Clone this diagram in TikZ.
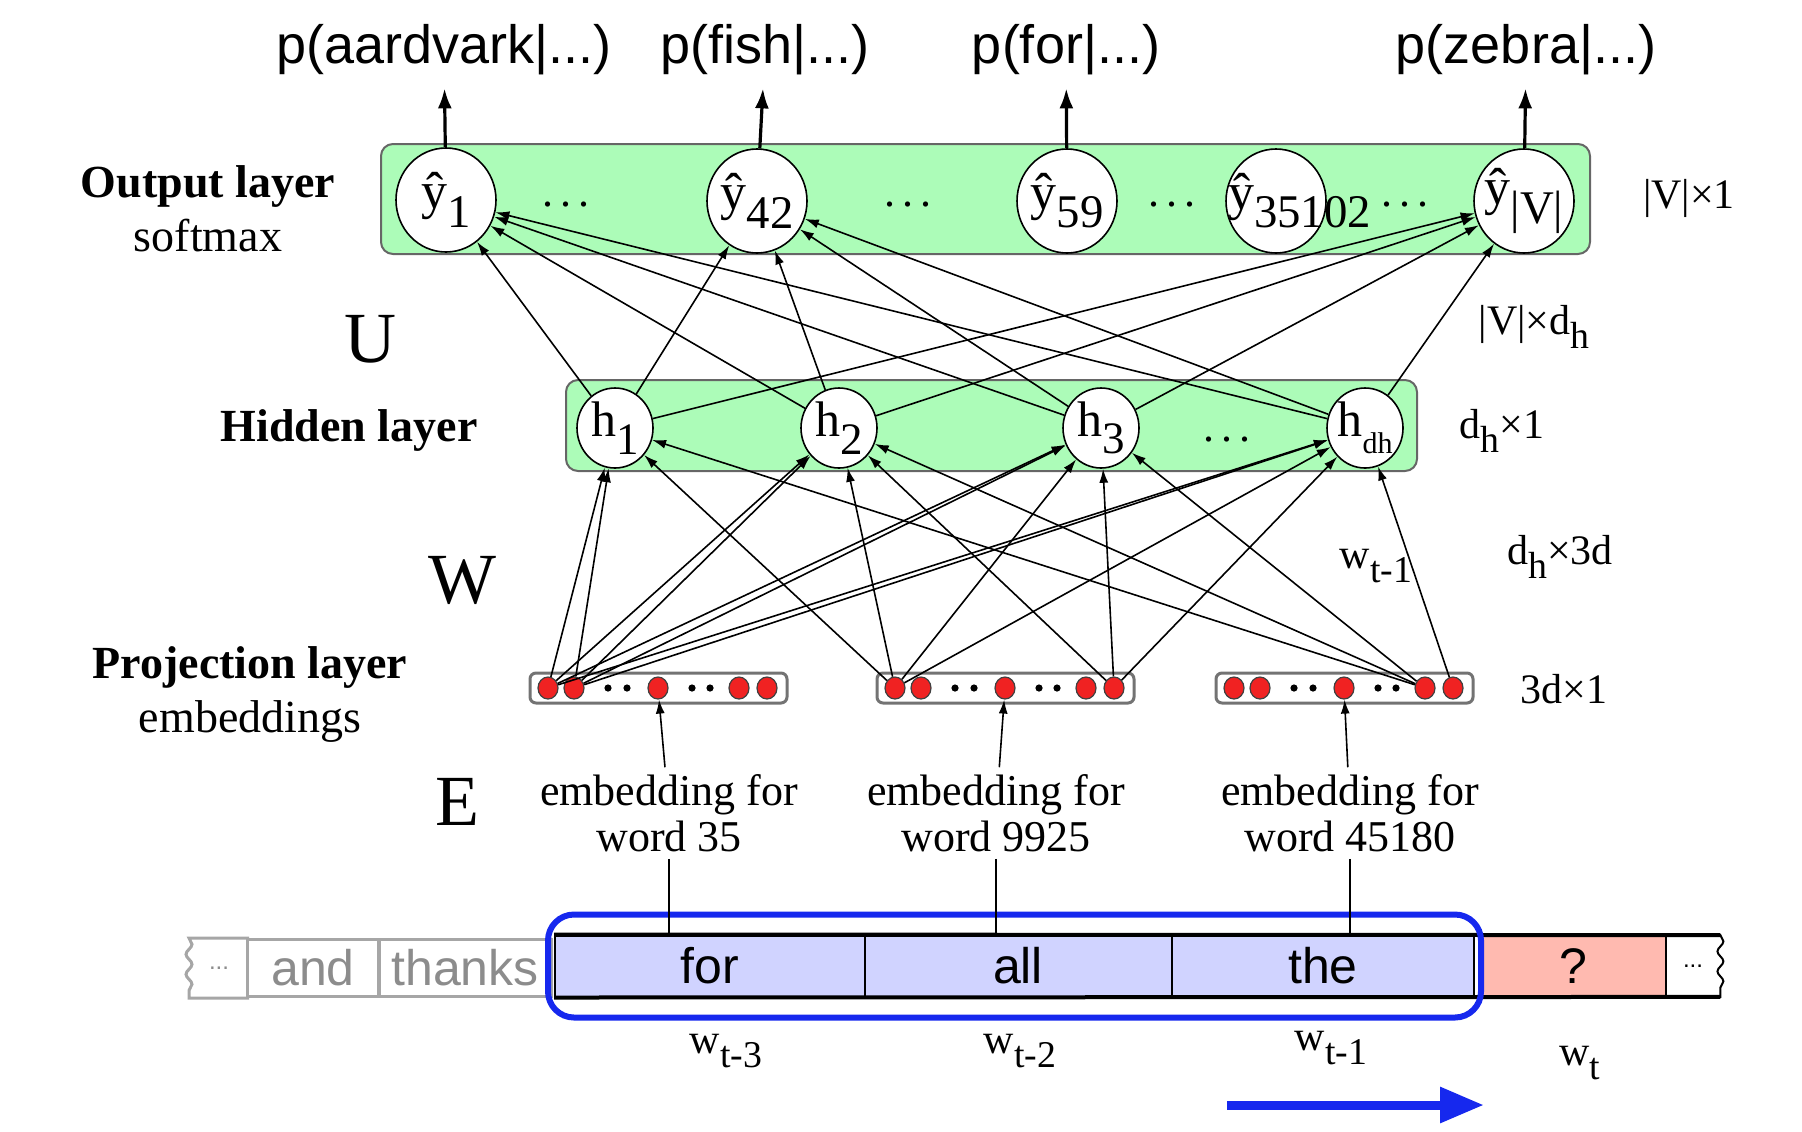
\documentclass[tikz,border=0pt]{standalone}
\usepackage{fontspec}
\setmainfont{Liberation Serif}
\newfontfamily\sansfont{Liberation Sans}
\usetikzlibrary{arrows.meta,shapes.geometric,decorations.pathmorphing,fit}

\definecolor{layergreen}{RGB}{172,252,184}
\definecolor{cellblue}{RGB}{208,211,255}
\definecolor{cellred}{RGB}{255,186,176}
\definecolor{winblue}{RGB}{22,40,238}
\definecolor{dotred}{RGB}{240,34,34}

\newcommand{\fsz}[1]{\fontsize{#1}{#1}\selectfont}
\newcommand{\lo}[1]{\raisebox{-.35em}{\scalebox{.9}{#1}}}
\newcommand{\yh}[1]{\makebox[0pt]{\fsz{26}ŷ\lo{#1}}}

\tikzset{
  layerbox/.style={draw=black!60, fill=layergreen, line width=1pt, rounded corners=6pt},
  ynode/.style={ellipse, draw, fill=white, line width=.8pt, minimum width=50pt, minimum height=52pt, inner sep=0pt},
  hnode/.style={ellipse, draw, fill=white, line width=.8pt, minimum width=38pt, minimum height=40pt, inner sep=0pt, font=\fsz{25}},
  projbox/.style={draw=black!55, fill=white, line width=1.5pt, rounded corners=3pt},
  reddot/.style={ellipse, draw=black!75, fill=dotred, line width=.6pt, minimum width=10pt, minimum height=11pt, inner sep=0pt},
  wire/.style={line width=.8pt, -{Latex[length=7pt,width=4.5pt]}},
  outarrow/.style={line width=1.6pt, -{Latex[length=10pt,width=7pt]}, shorten >=3pt},
  plabel/.style={font=\sansfont\fsz{27}},
  layername/.style={font=\fontsize{23}{27}\selectfont, align=center},
  matname/.style={font=\fsz{36}},
  dimlabel/.style={font=\fsz{21}},
  emblabel/.style={font=\fontsize{22}{23}\selectfont, align=center},
  wordcell/.style={draw, minimum height=30.5pt, inner sep=0pt, font=\sansfont\fsz{25}},
  graycell/.style={wordcell, draw=black!35, line width=1.5pt, minimum height=28.5pt, text=black!45},
  bluecell/.style={wordcell, fill=cellblue, line width=1pt},
  window/.style={draw=winblue, line width=3pt, rounded corners=13pt, inner xsep=3pt, inner ysep=10pt},
  slidearrow/.style={winblue, line width=4.5pt, -{Triangle[length=22pt,width=17pt]}},
  wavy/.style={decoration={snake, amplitude=1.5pt, segment length=10pt}}
}

\begin{document}
\begin{tikzpicture}[x=0.5pt, y=-0.5pt]
  \useasboundingbox (0,0) rectangle (1802,1131);
  % green layer boxes
  \draw[layerbox] (381,144) rectangle (1590,254);
  \draw[layerbox] (566,380) rectangle (1417,471);

  % output layer
  \node[ynode] (y1) at (446,200) {\yh{1}};
  \node[ynode] (y42) at (757,201) {\yh{42}};
  \node[ynode] (y59) at (1067,201) {\yh{59}};
  \node[ynode] (y35102) at (1276,201) {\makebox[0pt][l]{\hspace{-24pt}\fsz{26}ŷ\lo{35102}}};
  \node[ynode] (yV) at (1524,201) {\yh{|V|}};
  \node[font=\fsz{22}] (od1) at (566,205) {.\,.\,.};
  \node[font=\fsz{22}] (od2) at (908,205) {.\,.\,.};
  \node[font=\fsz{22}] (od3) at (1172,205) {.\,.\,.};
  \node[font=\fsz{22}] (od4) at (1405,205) {.\,.\,.};

  \node[plabel] (p1) at (444,50) {p(aardvark|...)};
  \node[plabel] (p2) at (765,50) {p(fish|...)};
  \node[plabel] (p3) at (1066,50) {p(for|...)};
  \node[plabel] (p4) at (1526,50) {p(zebra|...)};
  \draw[outarrow] (y1) -- (p1);
  \draw[outarrow] (y42) -- (p2);
  \draw[outarrow] (y59) -- (p3);
  \draw[outarrow] (yV) -- (p4);

  % hidden layer
  \node[hnode] (h1) at (615,428) {h\lo{1}};
  \node[hnode] (h2) at (839,428) {h\lo{2}};
  \node[hnode] (h3) at (1101,428) {h\lo{3}};
  \node[hnode] (hd) at (1365,428) {\makebox[0pt]{h\raisebox{-.35em}{\scalebox{.6}{dh}}}};
  \node[font=\fsz{22}] (hdots) at (1227,440) {.\,.\,.};

  % projection layer
  \foreach \g/\x in {1/530,2/877,3/1216}{
    \draw[projbox] (\x,673) rectangle ({\x+257},703);
    \node[reddot] (g\g-a) at ({\x+18},688) {};
    \node[reddot] (g\g-b) at ({\x+44},688) {};
    \node[reddot] (g\g-c) at ({\x+128},688) {};
    \node[reddot] (g\g-d) at ({\x+209},688) {};
    \node[reddot] (g\g-e) at ({\x+237},688) {};
    \fill ({\x+78},688) circle(1.8pt) ({\x+97},688) circle(1.8pt);
    \fill ({\x+162},688) circle(1.8pt) ({\x+180},688) circle(1.8pt);
  }

  % side labels
  \node[layername] (outname) at (208,209) {\textbf{Output layer}\\softmax};
  \node[layername] (hidname) at (349,430) {\textbf{Hidden layer}};
  \node[layername] (projname) at (250,694) {\textbf{Projection layer}\\embeddings};
  \node[matname] (matU) at (370,339) {U};
  \node[matname] (matW) at (462,580) {W};
  \node[matname] (matE) at (457,802) {E};
  \node[dimlabel] (dimy) at (1689,198) {|V|×1};
  \node[dimlabel] (dimu) at (1534,327) {|V|×d\lo{h}};
  \node[dimlabel] (dimh) at (1502,431) {d\lo{h}×1};
  \node[dimlabel] (dimw) at (1560,557) {d\lo{h}×3d};
  \node[dimlabel] (dimp) at (1564,689) {3d×1};
  \node[dimlabel] (wmid) at (1376,566) {w\lo{t-1}};

  % word strip
  \node[graycell, draw=none, minimum width=28.5pt, font=\sansfont\fsz{12}] (ldots) at (219,968) {...};
  \draw[black!35, line width=1.5pt] (ldots.north east) -- (ldots.north west) decorate[wavy]{-- (ldots.south west)} -- (ldots.south east);
  \node[graycell, minimum width=66pt] (and) at (313,968) {and};
  \node[graycell, minimum width=86.5pt] (thanks) at (465,968) {thanks};
  \node[bluecell, minimum width=155pt] (for) at (710,966) {for};
  \node[bluecell, minimum width=153.5pt] (all) at (1018,966) {all};
  \node[bluecell, minimum width=151pt] (the) at (1323,966) {the};
  \node[wordcell, fill=cellred, line width=1pt, minimum width=93pt] (next) at (1573,966) {?};
  \node[wordcell, draw=none, minimum width=27pt, font=\sansfont\fsz{12}] (rdots) at (1693,966) {...};
  \draw[line width=1pt] (rdots.north west) -- (rdots.north east) decorate[wavy]{-- (rdots.south east)} -- (rdots.south west);
  \draw[line width=2pt] (for.north west) -- (rdots.north east);
  \draw[line width=2pt] (for.south west) -- (rdots.south east);
  \node[window, fit=(for)(the)] (win) {};
  \coordinate (slide) at (1227,1105);
  \draw[slidearrow] (slide) -- (slide -| win.east);

  \node[dimlabel] (wt3) at (726,1051) {w\lo{t-3}};
  \node[dimlabel] (wt2) at (1020,1051) {w\lo{t-2}};
  \node[dimlabel] (wt1) at (1331,1048) {w\lo{t-1}};
  \node[dimlabel] (wt) at (1580,1063) {w\lo{t}};

  % embedding lookups
  \node[emblabel] (emb1) at (669,813) {embedding for\\word 35};
  \node[emblabel] (emb2) at (996,813) {embedding for\\word 9925};
  \node[emblabel] (emb3) at (1350,813) {embedding for\\word 45180};
  \draw[wire] (emb1) -- (g1-c);
  \draw[wire] (emb2) -- (g2-c);
  \draw[wire] (emb3) -- (g3-c);
  \draw[line width=.6pt] (emb1.south) -- (emb1.south |- for.north);
  \draw[line width=.6pt] (emb2.south) -- (emb2.south |- all.north);
  \draw[line width=.6pt] (emb3.south) -- (emb3.south |- the.north);

  % W: projection -> hidden
  \foreach \h in {h1,h2,h3,hd}{
    \draw[wire] (g1-a) -- (\h);
    \draw[wire] (g1-b) -- (\h);
    \draw[wire] (g2-a) -- (\h);
  }
  \foreach \h in {h2,h3,hd} \draw[wire] (g2-e) -- (\h);
  \foreach \h in {h1,h2,h3} \draw[wire] (g3-d) -- (\h);
  \draw[wire] (g3-e) -- (hd);

  % U: hidden -> output
  \foreach \h in {h1,h2,h3,hd}
    \foreach \y in {y1,y42,yV} \draw[wire] (\h) -- (\y);
\end{tikzpicture}
\end{document}
